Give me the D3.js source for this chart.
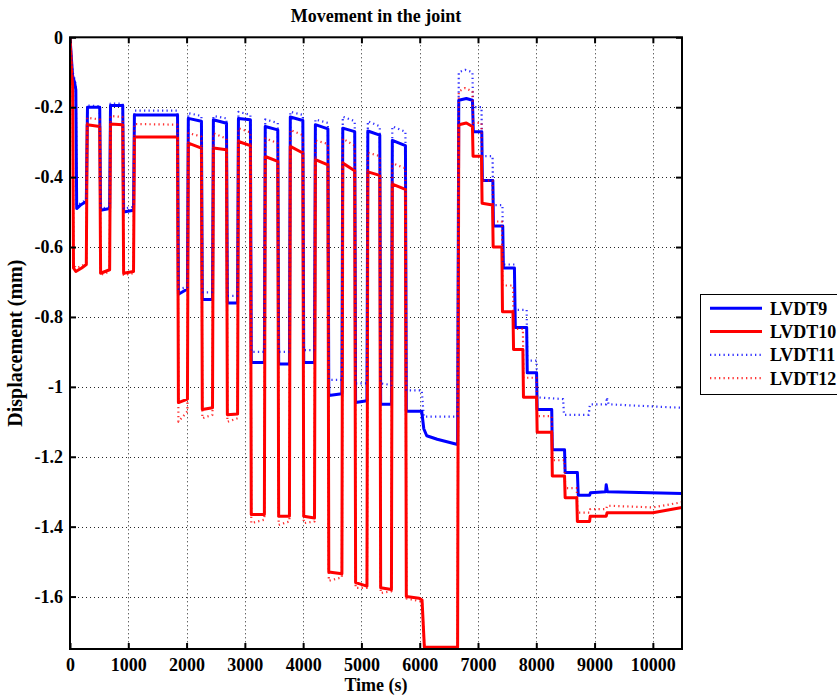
<!DOCTYPE html>
<html>
<head>
<meta charset="utf-8">
<script src="https://cdn.jsdelivr.net/npm/d3@7"></script>
<style>
  body { margin: 0; background: #fff; }
  svg { display: block; }
  text { font-family: "Liberation Serif", "Times New Roman", serif; font-weight: bold; fill: #000; }
</style>
</head>
<body>
<svg id="chart" width="837" height="697"></svg>
<script>
// Labels and ticks
const titleText = "Movement in the joint";
const xLabelText = "Time (s)";
const yLabelText = "Displacement (mm)";
const xTicks = [0, 1000, 2000, 3000, 4000, 5000, 6000, 7000, 8000, 9000, 10000];
const yTicks = [0, -0.2, -0.4, -0.6, -0.8, -1, -1.2, -1.4, -1.6];
const seriesNames = ["LVDT9", "LVDT10", "LVDT11", "LVDT12"];

// Displacement records: [time (s), displacement (mm)]
const lvdt9 = [
  [0, 0], [20, -0.05], [45, -0.11], [80, -0.13], [100, -0.15], [115, -0.49], [180, -0.48], [280, -0.47],
  [300, -0.20], [510, -0.20], [525, -0.495], [680, -0.49],
  [695, -0.195], [905, -0.195], [920, -0.50], [1090, -0.495],
  [1105, -0.222], [1845, -0.222], [1860, -0.735], [2015, -0.72],
  [2030, -0.232], [2255, -0.24], [2270, -0.75], [2445, -0.75],
  [2460, -0.236], [2685, -0.246], [2700, -0.76], [2875, -0.76],
  [2890, -0.232], [3095, -0.236], [3110, -0.93], [3335, -0.93],
  [3350, -0.255], [3565, -0.265], [3580, -0.935], [3765, -0.935],
  [3780, -0.228], [3995, -0.238], [4010, -0.93], [4195, -0.93],
  [4210, -0.25], [4425, -0.262], [4440, -1.025], [4665, -1.02],
  [4680, -0.26], [4885, -0.27], [4900, -1.045], [5095, -1.04],
  [5110, -0.268], [5315, -0.28], [5330, -1.05], [5515, -1.05],
  [5530, -0.295], [5755, -0.31], [5770, -1.07], [6035, -1.07],
  [6070, -1.12], [6120, -1.14], [6300, -1.15], [6650, -1.165],
  [6670, -0.18], [6800, -0.175], [6905, -0.18],
  [6920, -0.27], [7065, -0.27], [7075, -0.41], [7255, -0.41],
  [7265, -0.54], [7425, -0.54], [7435, -0.66], [7625, -0.66],
  [7640, -0.83], [7835, -0.83], [7845, -0.96], [8005, -0.96],
  [8015, -1.065], [8265, -1.065], [8275, -1.18], [8485, -1.18],
  [8495, -1.245], [8705, -1.245], [8720, -1.31], [8915, -1.31],
  [8930, -1.303], [9190, -1.30], [9200, -1.28], [9220, -1.30], [10500, -1.305]
];

const lvdt10 = [
  [0, 0], [30, -0.10], [45, -0.14], [60, -0.66], [100, -0.67], [200, -0.66], [280, -0.65],
  [295, -0.25], [510, -0.255], [525, -0.675], [680, -0.665],
  [695, -0.248], [905, -0.25], [920, -0.675], [1090, -0.67],
  [1105, -0.285], [1845, -0.285], [1860, -1.045], [2015, -1.035],
  [2030, -0.303], [2255, -0.317], [2270, -1.065], [2445, -1.06],
  [2460, -0.317], [2685, -0.322], [2700, -1.08], [2875, -1.078],
  [2890, -0.298], [3095, -0.31], [3110, -1.365], [3335, -1.365],
  [3350, -0.341], [3565, -0.355], [3580, -1.37], [3765, -1.37],
  [3780, -0.312], [3995, -0.331], [4010, -1.37], [4195, -1.375],
  [4210, -0.35], [4425, -0.365], [4440, -1.53], [4665, -1.535],
  [4680, -0.36], [4885, -0.382], [4900, -1.56], [5095, -1.57],
  [5110, -0.385], [5315, -0.395], [5330, -1.575], [5515, -1.58],
  [5530, -0.42], [5755, -0.435], [5770, -1.60], [5990, -1.605], [6040, -1.61],
  [6080, -1.745], [6650, -1.745],
  [6670, -0.25], [6800, -0.245], [6905, -0.255],
  [6915, -0.34], [7060, -0.34], [7070, -0.475], [7250, -0.48],
  [7260, -0.60], [7410, -0.60], [7420, -0.785], [7600, -0.785],
  [7610, -0.893], [7770, -0.893], [7780, -1.03], [8005, -1.03],
  [8015, -1.13], [8265, -1.13], [8275, -1.255], [8485, -1.255],
  [8495, -1.317], [8695, -1.317], [8705, -1.385], [8915, -1.385],
  [8925, -1.37], [9200, -1.37], [9215, -1.36], [10000, -1.36], [10500, -1.345]
];

const lvdt11 = [
  [0, 0], [20, -0.05], [45, -0.10], [80, -0.12], [100, -0.14], [115, -0.48], [180, -0.475], [280, -0.465],
  [300, -0.195], [510, -0.197], [525, -0.49], [680, -0.485],
  [695, -0.19], [905, -0.19], [920, -0.49], [1090, -0.485],
  [1105, -0.21], [1845, -0.21], [1860, -0.72], [2015, -0.715],
  [2030, -0.217], [2255, -0.225], [2270, -0.73], [2445, -0.73],
  [2460, -0.225], [2685, -0.232], [2700, -0.74], [2875, -0.74],
  [2890, -0.213], [3095, -0.222], [3110, -0.90], [3335, -0.90],
  [3350, -0.235], [3565, -0.245], [3580, -0.90], [3765, -0.90],
  [3780, -0.213], [3995, -0.222], [4010, -0.895], [4195, -0.895],
  [4210, -0.235], [4425, -0.245], [4440, -0.98], [4665, -0.98],
  [4680, -0.227], [4885, -0.24], [4900, -0.99], [5095, -0.99],
  [5110, -0.24], [5315, -0.255], [5330, -0.99], [5515, -0.995],
  [5530, -0.255], [5755, -0.27], [5770, -1.01], [6035, -1.01],
  [6070, -1.085], [6650, -1.085],
  [6670, -0.10], [6780, -0.093], [6905, -0.10],
  [6915, -0.20], [7060, -0.20], [7070, -0.34], [7250, -0.34],
  [7260, -0.48], [7420, -0.48], [7430, -0.65], [7625, -0.65],
  [7635, -0.78], [7835, -0.78], [7845, -0.925], [8005, -0.925],
  [8015, -1.03], [8460, -1.035], [8475, -1.08], [8900, -1.08],
  [8920, -1.05], [9200, -1.05], [9210, -1.03], [9240, -1.05], [10500, -1.06]
];

const lvdt12 = [
  [0, 0], [30, -0.10], [45, -0.14], [60, -0.65], [100, -0.66], [200, -0.655], [280, -0.645],
  [295, -0.23], [510, -0.235], [525, -0.68], [680, -0.67],
  [695, -0.225], [905, -0.228], [920, -0.68], [1090, -0.675],
  [1105, -0.248], [1845, -0.25], [1860, -1.10], [2015, -1.07],
  [2030, -0.274], [2255, -0.284], [2270, -1.09], [2445, -1.08],
  [2460, -0.274], [2685, -0.29], [2700, -1.10], [2875, -1.09],
  [2890, -0.26], [3095, -0.272], [3110, -1.39], [3335, -1.38],
  [3350, -0.289], [3565, -0.303], [3580, -1.395], [3765, -1.385],
  [3780, -0.265], [3995, -0.28], [4010, -1.39], [4195, -1.385],
  [4210, -0.295], [4425, -0.305], [4440, -1.555], [4665, -1.545],
  [4680, -0.29], [4885, -0.31], [4900, -1.575], [5095, -1.575],
  [5110, -0.33], [5315, -0.34], [5330, -1.59], [5515, -1.585],
  [5530, -0.36], [5755, -0.375], [5770, -1.605], [6040, -1.615],
  [6080, -1.745], [6650, -1.745],
  [6670, -0.155], [6780, -0.145], [6905, -0.155],
  [6915, -0.245], [7060, -0.245], [7070, -0.41], [7250, -0.41],
  [7260, -0.527], [7410, -0.527], [7420, -0.71], [7600, -0.71],
  [7610, -0.834], [7770, -0.834], [7780, -0.974], [8005, -0.974],
  [8015, -1.084], [8265, -1.084], [8275, -1.21], [8485, -1.21],
  [8495, -1.29], [8695, -1.29], [8705, -1.36], [8915, -1.36],
  [8925, -1.35], [9200, -1.35], [9215, -1.34], [10000, -1.345], [10500, -1.33]
];

const svg = d3.select("#chart");
const plot = { left: 70, right: 682, top: 37.3, bottom: 649 };

const x = d3.scaleLinear().domain([0, 10500]).range([plot.left, plot.right]);
const y = d3.scaleLinear().domain([0, -1.75]).range([plot.top, plot.bottom]);

// Dotted grid
const grid = svg.append("g").attr("stroke", "#000").attr("stroke-width", 1)
  .attr("stroke-dasharray", "1,3").attr("opacity", 0.85);
grid.selectAll("line.gx").data(xTicks.filter(d => d > 0)).join("line")
  .attr("x1", d => Math.round(x(d)) + 0.5).attr("x2", d => Math.round(x(d)) + 0.5)
  .attr("y1", plot.top).attr("y2", plot.bottom);
grid.selectAll("line.gy").data(yTicks.filter(d => d < 0)).join("line")
  .attr("y1", d => Math.round(y(d)) + 0.5).attr("y2", d => Math.round(y(d)) + 0.5)
  .attr("x1", plot.left).attr("x2", plot.right);

// Data lines
svg.append("clipPath").attr("id", "plotClip").append("rect")
  .attr("x", plot.left).attr("y", plot.top)
  .attr("width", plot.right - plot.left).attr("height", plot.bottom - plot.top);

const line = d3.line().x(d => x(d[0])).y(d => y(d[1]));
const series = [
  { name: seriesNames[0], data: lvdt9, color: "#0000ff", dotted: false },
  { name: seriesNames[1], data: lvdt10, color: "#ff0000", dotted: false },
  { name: seriesNames[2], data: lvdt11, color: "#0000ff", dotted: true },
  { name: seriesNames[3], data: lvdt12, color: "#ff0000", dotted: true }
];
function styleLine(sel, s) {
  sel.attr("fill", "none").attr("stroke", s.color)
    .attr("stroke-width", s.dotted ? 2.2 : 3)
    .attr("stroke-dasharray", s.dotted ? "1.3,3.2" : null)
    .attr("opacity", s.dotted ? 0.8 : 1)
    .attr("stroke-linejoin", "round");
}
const lines = svg.append("g").attr("clip-path", "url(#plotClip)");
series.forEach(s => {
  lines.append("path").datum(s.data).attr("d", line).call(styleLine, s);
});

// Axes box with inward ticks on all four sides
const axes = svg.append("g");
const tickLen = 6;
const axisBottom = d3.axisBottom(x).tickValues(xTicks).tickSize(-tickLen).tickPadding(9).tickFormat(d3.format("d"));
const axisTop = d3.axisTop(x).tickValues(xTicks).tickSize(-tickLen).tickFormat("");
const axisLeft = d3.axisLeft(y).tickValues(yTicks).tickSize(-tickLen).tickPadding(7)
  .tickFormat(d => d === 0 ? "0" : String(d));
const axisRight = d3.axisRight(y).tickValues(yTicks).tickSize(-tickLen).tickFormat("");

function styleAxis(g) {
  g.select(".domain").remove();
  g.selectAll(".tick line").attr("stroke", "#000").attr("stroke-width", 2);
  g.selectAll(".tick text").style("font-family", '"Liberation Serif", serif')
    .style("font-weight", "bold").style("font-size", "18px").attr("fill", "#000");
}
axes.append("g").attr("transform", `translate(0,${plot.bottom})`).call(axisBottom).call(styleAxis);
axes.append("g").attr("transform", `translate(0,${plot.top})`).call(axisTop).call(styleAxis);
axes.append("g").attr("transform", `translate(${plot.left},0)`).call(axisLeft).call(styleAxis);
axes.append("g").attr("transform", `translate(${plot.right},0)`).call(axisRight).call(styleAxis);

axes.append("rect").attr("x", plot.left).attr("y", plot.top)
  .attr("width", plot.right - plot.left).attr("height", plot.bottom - plot.top)
  .attr("fill", "none").attr("stroke", "#000").attr("stroke-width", 2);

// Title and axis labels
svg.append("text").attr("x", (plot.left + plot.right) / 2).attr("y", 22)
  .attr("text-anchor", "middle").style("font-size", "18px").text(titleText);
svg.append("text").attr("x", (plot.left + plot.right) / 2).attr("y", 691)
  .attr("text-anchor", "middle").style("font-size", "18px").text(xLabelText);
svg.append("text").attr("transform", `translate(22,${(plot.top + plot.bottom) / 2}) rotate(-90)`)
  .attr("text-anchor", "middle").style("font-size", "20px").text(yLabelText);

// Legend
const legend = svg.append("g").attr("transform", "translate(700,294)");
legend.append("rect").attr("x", 0.5).attr("y", 0.5).attr("width", 170).attr("height", 100)
  .attr("fill", "#fff").attr("stroke", "#000").attr("stroke-width", 1);
series.forEach((s, i) => {
  const ly = 14.3 + i * 23.3;
  legend.append("line").attr("x1", 10).attr("x2", 62).attr("y1", ly).attr("y2", ly).call(styleLine, s);
  legend.append("text").attr("x", 70).attr("y", ly + 6.5).style("font-size", "18px").text(s.name);
});
</script>
</body>
</html>
